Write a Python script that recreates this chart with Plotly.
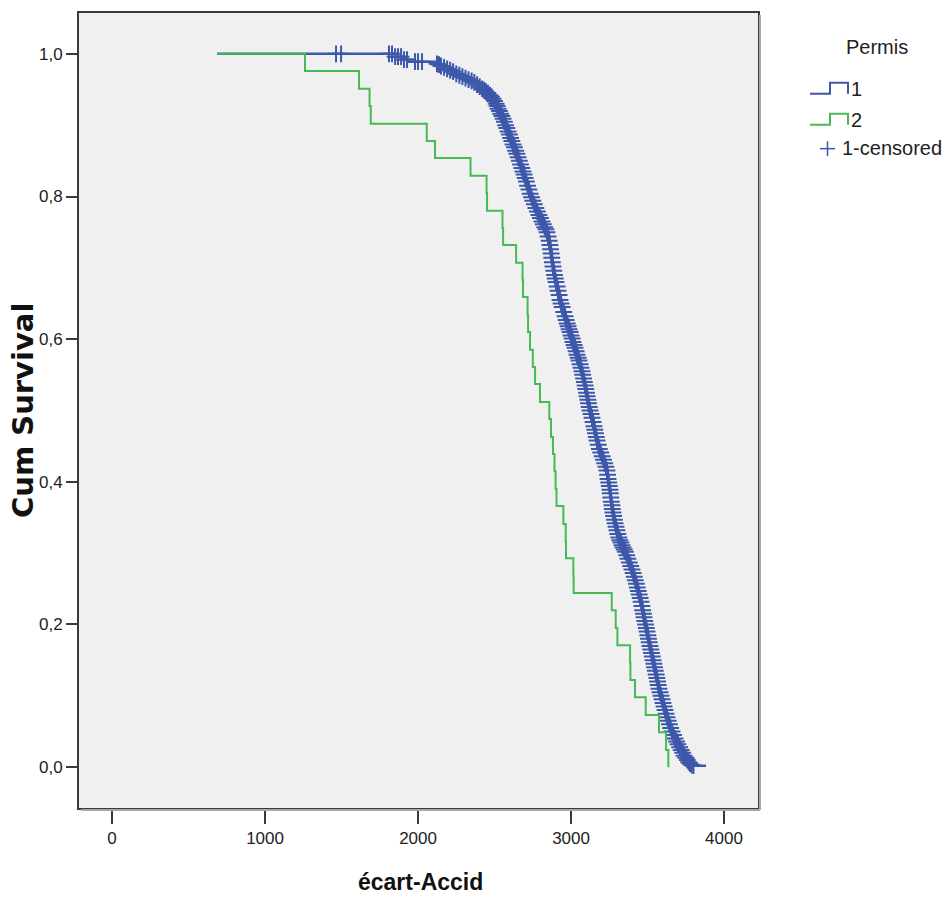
import numpy as np
import plotly.graph_objects as go

# ---- Permis = 2 : Kaplan-Meier steps (time of event, survival after it)
green_time = [686, 1261, 1614, 1683, 1691, 2057, 2111, 2343, 2448, 2451, 2552,
              2556, 2641, 2683, 2686, 2716, 2719, 2732, 2750, 2765, 2797, 2858,
              2869, 2882, 2892, 2899, 2905, 2950, 2965, 2967, 3015, 3017, 3266,
              3292, 3303, 3386, 3388, 3418, 3488, 3575, 3621, 3636]
green_surv = [1.000, 0.976, 0.951, 0.927, 0.902, 0.878, 0.854, 0.829, 0.805,
              0.780, 0.756, 0.732, 0.707, 0.683, 0.659, 0.634, 0.610, 0.585,
              0.561, 0.537, 0.512, 0.488, 0.463, 0.439, 0.415, 0.390, 0.366,
              0.341, 0.317, 0.293, 0.268, 0.244, 0.220, 0.195, 0.171, 0.146,
              0.122, 0.098, 0.073, 0.049, 0.024, 0.000]

# ---- Permis = 1 : Kaplan-Meier steps
blue_time = [686, 1850, 1908, 1935,
             2124, 2137, 2150, 2170, 2190, 2210, 2229, 2250, 2270, 2290, 2310,
             2330, 2350, 2368, 2386, 2403, 2420, 2432, 2444, 2457, 2470, 2480,
             2490, 2500, 2510, 2517, 2523, 2532, 2540, 2548, 2556, 2564, 2572,
             2580, 2588, 2597, 2605, 2613, 2621, 2630, 2638, 2646, 2654, 2662,
             2670, 2678, 2686, 2693, 2700, 2708, 2716, 2725, 2733, 2742, 2750,
             2760, 2770, 2780, 2790, 2800, 2810, 2819, 2828, 2836, 2843, 2850,
             2857, 2862, 2866, 2870, 2874, 2878, 2882, 2887, 2892, 2897, 2902,
             2909, 2915, 2922, 2928, 2935, 2942, 2952, 2961, 2968, 2975, 2981,
             2987, 2994, 3000, 3007, 3013, 3020, 3026, 3033, 3039, 3046, 3052,
             3059, 3065, 3071, 3076, 3082, 3087, 3092, 3096, 3101, 3105, 3110,
             3114, 3119, 3124, 3131, 3137, 3144, 3150, 3155, 3160, 3165, 3170,
             3178, 3185, 3194, 3203, 3212, 3220, 3228, 3235, 3239, 3242, 3246,
             3250, 3254, 3257, 3260, 3263, 3267, 3270, 3274, 3278, 3283, 3288,
             3294, 3300, 3306, 3312, 3319, 3326, 3333, 3340, 3348, 3355, 3364,
             3372, 3381, 3390, 3398, 3406, 3413, 3420, 3427, 3433, 3439, 3445,
             3452, 3458, 3463, 3468, 3473, 3477, 3482, 3487, 3492, 3497, 3502,
             3506, 3511, 3516, 3521, 3526, 3531, 3536, 3541, 3546, 3551, 3556,
             3561, 3566, 3570, 3575, 3582, 3588, 3595, 3601, 3608, 3614, 3621,
             3627, 3635, 3643, 3651, 3660, 3670, 3680, 3690, 3699, 3710, 3720,
             3730, 3739, 3750, 3760, 3769, 3778, 3789, 3800, 3882]
blue_surv = [1.000, 0.996, 0.992, 0.989,
             0.986, 0.985, 0.983, 0.981, 0.979, 0.977, 0.975, 0.972, 0.970,
             0.968, 0.966, 0.964, 0.962, 0.960, 0.957, 0.954, 0.951, 0.949,
             0.947, 0.945, 0.942, 0.940, 0.937, 0.934, 0.930, 0.927, 0.923,
             0.920, 0.916, 0.913, 0.909, 0.905, 0.900, 0.896, 0.891, 0.887,
             0.882, 0.878, 0.873, 0.869, 0.864, 0.860, 0.855, 0.850, 0.845,
             0.840, 0.835, 0.831, 0.826, 0.821, 0.815, 0.810, 0.804, 0.799,
             0.794, 0.789, 0.784, 0.779, 0.774, 0.770, 0.765, 0.761, 0.757,
             0.754, 0.750, 0.744, 0.738, 0.732, 0.726, 0.720, 0.714, 0.708,
             0.702, 0.696, 0.690, 0.685, 0.680, 0.674, 0.668, 0.662, 0.655,
             0.650, 0.645, 0.638, 0.632, 0.627, 0.622, 0.618, 0.614, 0.610,
             0.605, 0.601, 0.596, 0.592, 0.588, 0.583, 0.578, 0.574, 0.570,
             0.565, 0.560, 0.555, 0.550, 0.545, 0.540, 0.535, 0.530, 0.525,
             0.520, 0.515, 0.510, 0.505, 0.500, 0.495, 0.490, 0.484, 0.478,
             0.473, 0.468, 0.463, 0.458, 0.452, 0.446, 0.441, 0.436, 0.431,
             0.426, 0.421, 0.416, 0.410, 0.404, 0.399, 0.394, 0.389, 0.384,
             0.378, 0.372, 0.367, 0.362, 0.357, 0.352, 0.347, 0.342, 0.337,
             0.332, 0.327, 0.322, 0.318, 0.315, 0.311, 0.308, 0.305, 0.302,
             0.297, 0.292, 0.287, 0.282, 0.277, 0.272, 0.267, 0.262, 0.257,
             0.252, 0.247, 0.242, 0.237, 0.232, 0.226, 0.220, 0.215, 0.210,
             0.205, 0.200, 0.195, 0.190, 0.185, 0.180, 0.175, 0.170, 0.165,
             0.160, 0.155, 0.150, 0.145, 0.140, 0.135, 0.130, 0.125, 0.120,
             0.115, 0.110, 0.105, 0.100, 0.095, 0.090, 0.085, 0.080, 0.075,
             0.070, 0.065, 0.060, 0.055, 0.050, 0.045, 0.040, 0.036, 0.032,
             0.028, 0.024, 0.020, 0.016, 0.013, 0.010, 0.007, 0.005, 0.003,
             0.002, 0.002]

# censored observations of Permis = 1 before the curve starts falling
blue_censored_early = [1464, 1497, 1810, 1830, 1850, 1869, 1889, 1908, 1928,
                       1980, 2000, 2026]

y_ticks = [0.0, 0.2, 0.4, 0.6, 0.8, 1.0]
y_tick_text = ["0,0", "0,2", "0,4", "0,6", "0,8", "1,0"]
x_ticks = [0, 1000, 2000, 3000, 4000]

BLUE = "#3D58AB"
GREEN = "#45BA55"
FRAME = "#3A3A3A"
SANS = "Liberation Sans, Arial, sans-serif"

# censor marks sit on the step curve (the last observation is an event)
bt = np.array(blue_time)
bs = np.array(blue_surv)
cens_t = np.array(blue_censored_early + blue_time[4:-1])
cens_s = bs[np.searchsorted(bt, cens_t, side="right") - 1]

fig = go.Figure()
fig.add_trace(go.Scatter(x=blue_time, y=blue_surv, mode="lines",
                         line=dict(color=BLUE, width=2.5, shape="hv"),
                         showlegend=False, hoverinfo="skip"))
fig.add_trace(go.Scatter(x=cens_t, y=cens_s, mode="markers",
                         marker=dict(symbol="cross-thin", size=12,
                                     line=dict(color=BLUE, width=2)),
                         showlegend=False, hoverinfo="skip"))
fig.add_trace(go.Scatter(x=green_time, y=green_surv, mode="lines",
                         line=dict(color=GREEN, width=2, shape="hv"),
                         showlegend=False, hoverinfo="skip"))

# plot area in pixels: x 79..758, y 11..808
L, R, T, B = 79, 758, 11, 808
W, H = 952, 900


def px(xp):
    return (xp - L) / (R - L)


def py(yp):
    return (B - yp) / (B - T)


shapes = []
# soft shadow along right and bottom of the frame
shapes.append(dict(type="line", xref="paper", yref="paper",
                   x0=px(R + 2), x1=px(R + 2), y0=py(T + 2), y1=py(B + 2),
                   line=dict(color="#A8A8A8", width=2)))
shapes.append(dict(type="line", xref="paper", yref="paper",
                   x0=px(L + 2), x1=px(R + 2), y0=py(B + 2), y1=py(B + 2),
                   line=dict(color="#A8A8A8", width=2)))


def step_icon(x0, x1, x2, ylo, yhi, color):
    path = (f"M {px(x0)},{py(ylo)} L {px(x1)},{py(ylo)} L {px(x1)},{py(yhi)} "
            f"L {px(x2)},{py(yhi)} L {px(x2)},{py(ylo)}")
    return dict(type="path", xref="paper", yref="paper", path=path,
                line=dict(color=color, width=2))


shapes.append(step_icon(810, 830, 848, 92, 81, BLUE))
shapes.append(step_icon(810, 830, 848, 123, 112, GREEN))
# "+" censor symbol in the legend
shapes.append(dict(type="line", xref="paper", yref="paper",
                   x0=px(820), x1=px(835), y0=py(147), y1=py(147),
                   line=dict(color=BLUE, width=1.5)))
shapes.append(dict(type="line", xref="paper", yref="paper",
                   x0=px(827.5), x1=px(827.5), y0=py(139.5), y1=py(154.5),
                   line=dict(color=BLUE, width=1.5)))

legend_font = dict(family=SANS, size=20, color="#222222")
annotations = [
    dict(text="Permis", x=px(877), y=py(45), xref="paper", yref="paper",
         showarrow=False, xanchor="center", yanchor="middle", font=legend_font),
    dict(text="1", x=px(849), y=py(87), xref="paper", yref="paper",
         showarrow=False, xanchor="left", yanchor="middle", font=legend_font),
    dict(text="2", x=px(849), y=py(118), xref="paper", yref="paper",
         showarrow=False, xanchor="left", yanchor="middle", font=legend_font),
    dict(text="1-censored", x=px(840), y=py(146), xref="paper", yref="paper",
         showarrow=False, xanchor="left", yanchor="middle", font=legend_font),
    # axis titles
    dict(text="<b>écart-Accid</b>", x=px(420), y=py(882), xref="paper",
         yref="paper", showarrow=False, xanchor="center", yanchor="middle",
         font=dict(family=SANS, size=23, color="#111111")),
    dict(text="<b>Cum Survival</b>", x=px(23), y=py(410), xref="paper",
         yref="paper", showarrow=False, xanchor="center", yanchor="middle",
         textangle=-90,
         font=dict(family="DejaVu Sans", size=29, color="#111111")),
]

tick_font = dict(family=SANS, size=17, color="#222222")
fig.update_layout(
    width=W, height=H,
    margin=dict(l=L, r=W - R, t=T, b=H - B, pad=0),
    paper_bgcolor="white",
    plot_bgcolor="#F0F0F0",
    shapes=shapes,
    annotations=annotations,
    showlegend=False,
    xaxis=dict(range=[-216, 4222], tickvals=x_ticks,
               ticktext=[str(v) for v in x_ticks],
               showgrid=False, zeroline=False,
               showline=True, mirror=True, linecolor=FRAME, linewidth=2,
               ticks="outside", ticklen=14, tickwidth=2, tickcolor=FRAME,
               tickfont=tick_font),
    yaxis=dict(range=[-0.0573, 1.0573], tickvals=y_ticks, ticktext=y_tick_text,
               showgrid=False, zeroline=False,
               showline=True, mirror=True, linecolor=FRAME, linewidth=2,
               ticks="outside", ticklen=11, tickwidth=2, tickcolor=FRAME,
               tickfont=tick_font),
)

fig.write_html("out.html")
